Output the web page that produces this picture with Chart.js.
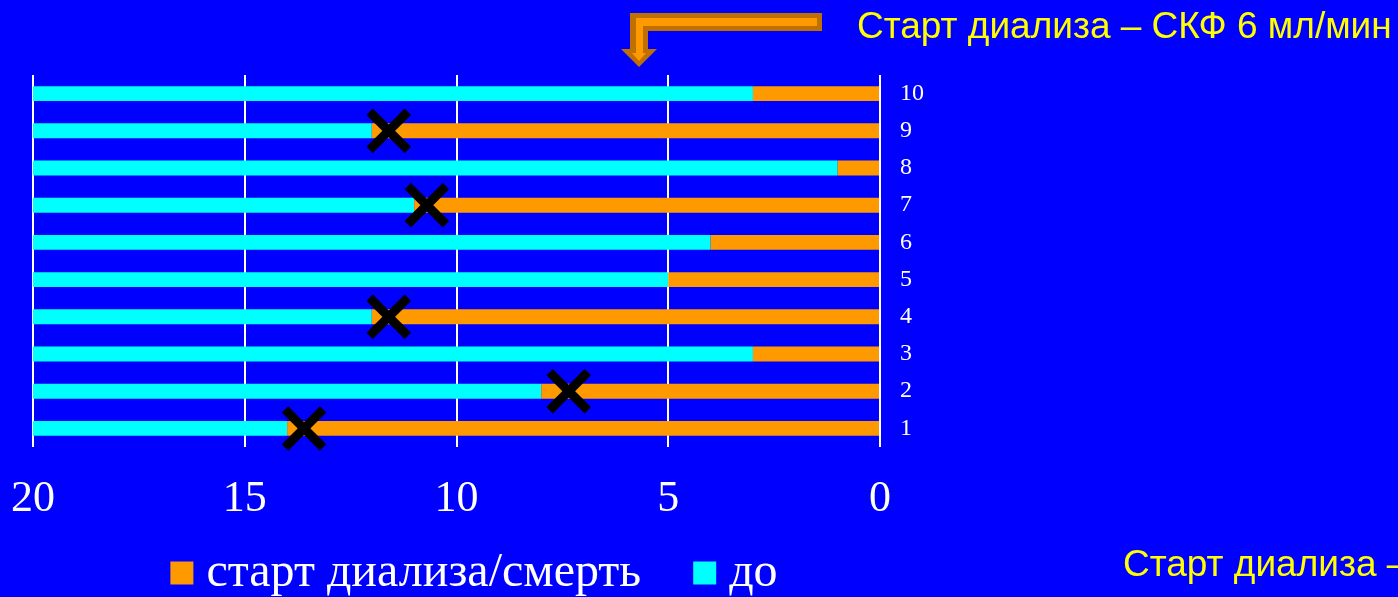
<!DOCTYPE html>
<html>
<head>
<meta charset="utf-8">
<script src="https://cdn.jsdelivr.net/npm/chart.js@4/dist/chart.umd.min.js"></script>
<style>
  html, body { margin: 0; padding: 0; background: #0000ff; overflow: hidden; }
  canvas { display: block; }
</style>
</head>
<body>
<canvas id="chart" width="1398" height="597"></canvas>
<script>
// Patients, bottom to top
const patients = ['1', '2', '3', '4', '5', '6', '7', '8', '9', '10'];
// Years from dialysis start / death (measured from 0 on the right)
const afterStart = [14, 8, 3, 12, 5, 4, 11, 1, 12, 3];
// Years before that point
const beforeStart = [6, 12, 17, 8, 15, 16, 9, 19, 8, 17];
// Deaths marked with a cross
const crossPatients = ['1', '2', '4', '7', '9'];
const crossValues = [13.6, 7.35, 11.6, 10.7, 11.6];
// Axis ticks
const xTickValues = [0, 5, 10, 15, 20];
// Series names
const seriesNames = ['старт диализа/смерть', 'до'];
// Notes
const noteTop = 'Старт диализа – СКФ 6 мл/мин';
const noteBottom = 'Старт диализа –';

const serif = '"Liberation Serif", "Times New Roman", serif';
const sans = '"Liberation Sans", Arial, sans-serif';

// Bent arrow pointing down at the axis, plus the yellow notes
const notesPlugin = {
  id: 'notes',
  afterDraw(chart) {
    const ctx = chart.ctx;
    ctx.save();
    ctx.fillStyle = '#c07000';
    ctx.beginPath();
    ctx.moveTo(822, 13);
    ctx.lineTo(630, 13);
    ctx.lineTo(630, 49);
    ctx.lineTo(621, 49);
    ctx.lineTo(639, 67);
    ctx.lineTo(657, 49);
    ctx.lineTo(648, 49);
    ctx.lineTo(648, 31);
    ctx.lineTo(822, 31);
    ctx.closePath();
    ctx.fill();
    ctx.fillStyle = '#ff9900';
    ctx.beginPath();
    ctx.moveTo(817, 18);
    ctx.lineTo(636, 18);
    ctx.lineTo(636, 53);
    ctx.lineTo(632, 53);
    ctx.lineTo(639, 61);
    ctx.lineTo(646, 53);
    ctx.lineTo(643, 53);
    ctx.lineTo(643, 26);
    ctx.lineTo(817, 26);
    ctx.closePath();
    ctx.fill();

    ctx.fillStyle = '#ffff00';
    ctx.font = '37px ' + sans;
    ctx.textAlign = 'left';
    ctx.textBaseline = 'alphabetic';
    ctx.fillText(noteTop, 857, 38);
    ctx.fillText(noteBottom, 1123, 576);
    ctx.restore();
  }
};

new Chart(document.getElementById('chart'), {
  type: 'bar',
  data: {
    labels: patients,
    datasets: [
      {
        type: 'scatter',
        label: 'cross',
        data: crossPatients.map((p, i) => ({ x: crossValues[i], y: p })),
        pointStyle: 'crossRot',
        pointRadius: 27,
        pointBorderWidth: 9,
        borderColor: '#000000',
        pointBorderColor: '#000000',
        backgroundColor: '#000000',
        showLine: false,
        stack: 'marks',
        order: -1
      },
      {
        label: seriesNames[0],
        data: afterStart,
        backgroundColor: '#ff9900',
        borderWidth: 0,
        barPercentage: 0.4,
        categoryPercentage: 1.0
      },
      {
        label: seriesNames[1],
        data: beforeStart,
        backgroundColor: '#00ffff',
        borderWidth: 0,
        barPercentage: 0.4,
        categoryPercentage: 1.0
      }
    ]
  },
  options: {
    indexAxis: 'y',
    responsive: false,
    animation: false,
    events: [],
    layout: { autoPadding: false, padding: { top: 75, left: 33, right: 472, bottom: 0 } },
    scales: {
      x: {
        type: 'linear',
        stacked: true,
        reverse: true,
        min: 0,
        max: 20,
        afterBuildTicks(scale) {
          scale.ticks = xTickValues.map(v => ({ value: v }));
        },
        afterFit(scale) {
          scale.height = 39;
          scale.paddingLeft = 0;
          scale.paddingRight = 0;
        },
        grid: { color: '#ffffff', lineWidth: 2, drawTicks: false },
        border: { display: false },
        ticks: {
          color: '#ffffff',
          mirror: true,
          padding: -78.8,
          maxRotation: 0,
          font: { family: serif, size: 44 }
        }
      },
      y: {
        type: 'category',
        position: 'right',
        stacked: true,
        reverse: true,
        afterFit(scale) { scale.width = 46; },
        grid: { display: false, drawTicks: false },
        border: { display: false },
        ticks: {
          color: '#ffffff',
          padding: 20,
          font: { family: serif, size: 24 }
        }
      }
    },
    plugins: {
      tooltip: { enabled: false },
      legend: {
        position: 'bottom',
        maxHeight: 111,
        labels: {
          color: '#ffffff',
          usePointStyle: true,
          pointStyle: 'rect',
          boxWidth: 1,
          boxHeight: 23,
          padding: 63,
          font: { family: serif, size: 48 },
          filter: item => item.text !== 'cross'
        }
      }
    }
  },
  plugins: [notesPlugin]
});
</script>
</body>
</html>
